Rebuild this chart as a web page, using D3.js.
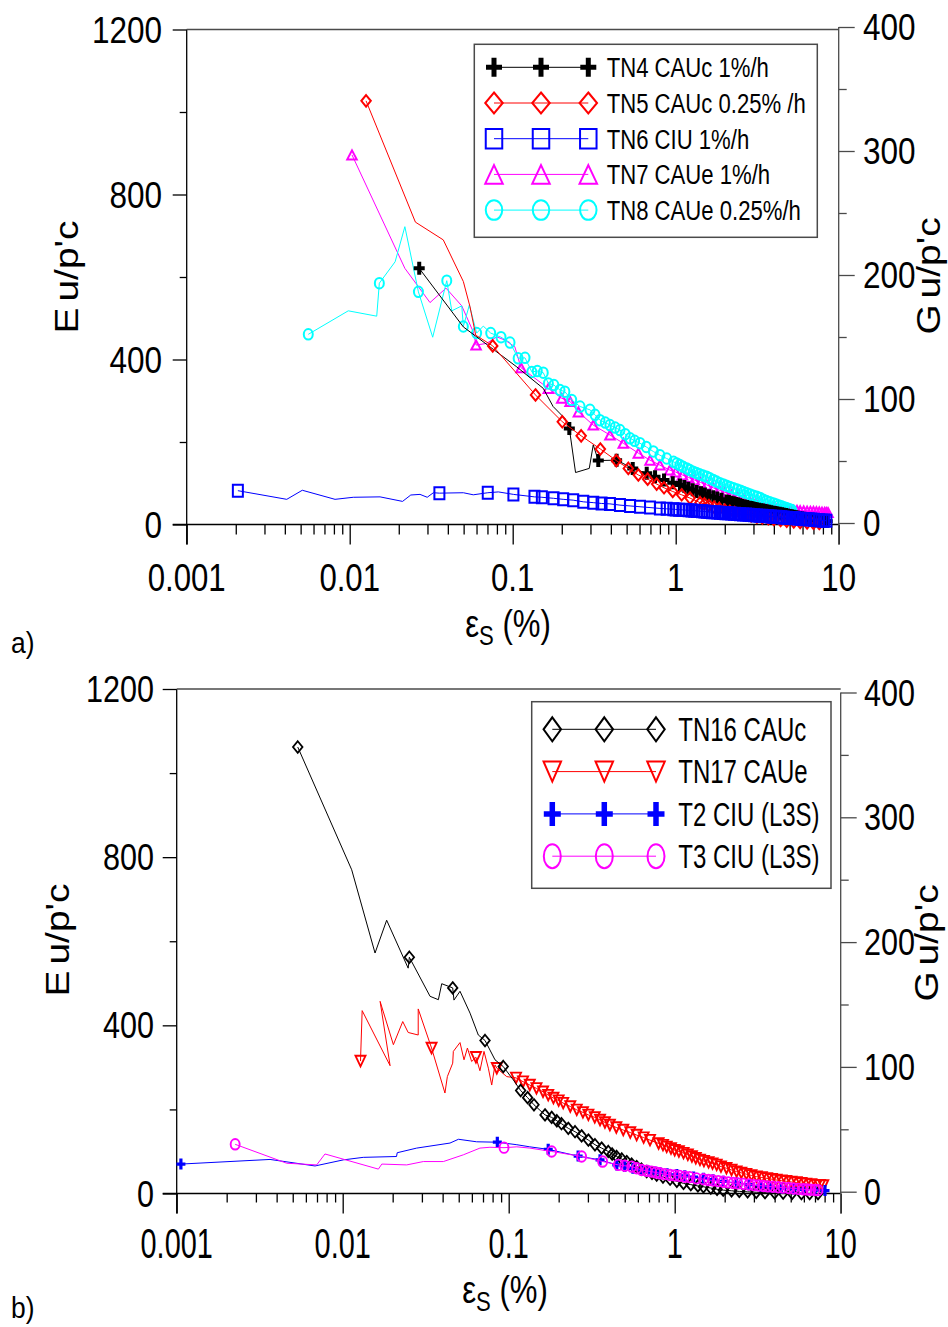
<!DOCTYPE html>
<html><head><meta charset="utf-8">
<script src="https://cdn.jsdelivr.net/npm/d3@7"></script>
<style>
body{margin:0;background:#fff}
svg{display:block}
text{font-family:"Liberation Sans",Arial,Helvetica,sans-serif;fill:#000}
</style>
</head><body>
<svg id="c" width="948" height="1327"></svg>
<script>
// ---------------- DATA ----------------
// Panel a
const tn4X = [0.0267,0.0498,0.106,0.154,0.177,0.209,0.2225,0.243,0.295,0.312,0.335,0.434,0.545,0.664,0.747,0.848,0.959,1.062,1.13,1.195,1.27,1.345,1.43,1.51,1.6,1.70,1.8,1.91,2.05,2.12,2.2,2.27,2.35,2.41,2.48,2.56,2.65,2.75,2.85,2.92,3.0,3.07,3.14,3.25,3.35,3.45,3.55,3.65,3.75,3.86,3.98,4.1,4.2,4.35,4.5,4.62,4.75,4.87,5.0,5.15,5.3,5.45,5.6,5.78,5.95,6.1,6.3,6.5,6.7,6.9,7.1,7.3,7.5,7.75,8.0,8.25,8.5];
const tn4Y = [621,479,382,330,286,257,233,126,136,193,155,156,136,124,116,108,101,96,92,88,84,80,77,74,70,67,64,61,57,55.5,54,52.5,51,49.5,48,46.5,45,43.5,42,41,40,39,38,37,36,35,34,33,32,31,30,29,28,27,26,25,24,23,22,21,20,19,18,17,16,15,14,13,12.5,11.7,11,10.5,10,9.5,9,8.5,8];
const tn4Bare = [1,2,3,4,5,7,8,9];

const tn5X = [0.0126,0.0253,0.0375,0.0498,0.0547,0.0593,0.0754,0.138,0.2015,0.263,0.345,0.432,0.512,0.590,0.673,0.764,0.848,0.959,1.088,1.224,1.41,1.5,1.6,1.72,1.85,2.0,2.15,2.3,2.5,2.7,2.9,3.15,3.4,3.7,4.0,4.4,4.8,5.3,5.8,6.4,7.0,7.6];
const tn5Y = [1027,733,690,589,528,459,433,314,249,215,183,155,136,120,110,98,89,80,72,64,53,50,46,42,39,35,32,29,26,23,21,18,16,14,12,10,8,6.5,5,4,3,2.5];
const tn5Bare = [1,2,3,4,5];

const tn6X = [0.00206,0.00411,0.00512,0.00813,0.01052,0.01535,0.0211,0.0237,0.0270,0.0299,0.0326,0.0355,0.0498,0.0573,0.0703,0.0817,0.101,0.136,0.151,0.178,0.204,0.235,0.271,0.312,0.351,0.395,0.455,0.525,0.604,0.696,0.80,0.88,0.967,1.0,1.05,1.1,1.15,1.2,1.25,1.3,1.35,1.4,1.45,1.5,1.55,1.61,1.67,1.73,1.8,1.87,1.95,2.02,2.1,2.19,2.28,2.38,2.48,2.59,2.7,2.8,2.9,3.02,3.15,3.27,3.4,3.55,3.7,3.84,3.98,4.14,4.3,4.45,4.6,4.8,5.0,5.2,5.4,5.62,5.85,6.07,6.3,6.55,6.8,7.05,7.3,7.57,7.85,8.12,8.4];
const tn6Y = [82,61,83,61,66,67,56,71.5,73,66,77,76,77,72,77,79,73,67,66,63.5,61,59,55,53,51,50,47,45,43,41,39,38,37,36.5,36,35.5,35,34.5,34,33.5,33,32.5,32,31.5,31,30.5,30,29.5,29,28.5,28,27.5,27,26.5,26,25.5,25,24.5,24,23.5,23,22.5,22,21.5,21,20.5,20,19.5,19,18.5,18,17.5,17,16.5,16,15.5,15,14.5,14,13.5,13,12.5,12,11.5,11,10.5,10,9.5,9];
const tn6Bare = [1,2,3,4,5,6,7,8,9,10,12,13,15];

const tn7X = [0.01033,0.0218,0.0311,0.039,0.0487,0.0573,0.0596,0.0692,0.0798,0.0897,0.103,0.1125,0.1655,0.2,0.225,0.253,0.312,0.395,0.477,0.59,0.696,0.80,0.92,1.0,1.1,1.2,1.3,1.42,1.55,1.7,1.85,2.0,2.2,2.4,2.6,2.85,3.1,3.4,3.7,4.0,4.2,4.4,4.6,4.8,5.05,5.3,5.55,5.8,6.1,6.4,6.7,7.0,7.3,7.6,7.9,8.2,8.4,8.6];
const tn7Y = [896,621,538,573,530,467,435,439,455,447,431,380,330,306,298,273,241,217,197,173,156,144,132,127,120,114,108,102,96,89,83,78,72,66,61,56,52,48,44,41,39.5,38,37,36,35,34.5,34,33.5,33,32.5,32,31.5,31,30.5,30,29.5,29,29];
const tn7Bare = [1,2,3,4,5,7,8,9,10];

const tn8X = [0.00557,0.0098,0.01465,0.0152,0.019,0.0218,0.0264,0.0323,0.0394,0.0423,0.0487,0.0498,0.0542,0.0601,0.066,0.0733,0.0848,0.0963,0.108,0.119,0.131,0.1415,0.154,0.1655,0.179,0.195,0.209,0.23,0.259,0.298,0.32,0.343,0.37,0.395,0.425,0.455,0.49,0.525,0.56,0.604,0.66,0.729,0.8,0.881,0.97,1.015,1.06,1.11,1.17,1.22,1.28,1.34,1.4,1.47,1.55,1.62,1.7,1.78,1.87,1.96,2.05,2.15,2.26,2.38,2.5,2.61,2.73,2.86,3.0,3.15,3.3,3.45,3.6,3.78,3.98,4.14,4.3,4.45,4.6,4.75,4.9,5.02,5.15];
const tn8Y = [461,518,505,585,637,722,564,454,591,518,530,480,532,464,481,464,454,441,403,404,370,372,368,342,338,326,322,302,286,278,266,253,247,241,235,229,219,209,203,197,188,177,168,160,152,148,144,140,136,132,128,125,122,119,116,112,108,104,100,97,94,91,88,85,82,79,76,73,70,67,64,60,57,54,51,48.5,46,44,42,40,38,36.5,35];
const tn8Bare = [1,2,4,5,7,9,10,12,14];

// Panel b
const tn16X = [0.00536,0.01133,0.01566,0.0184,0.0248,0.0252,0.0336,0.0377,0.0395,0.046,0.0468,0.0509,0.0585,0.0656,0.072,0.0827,0.0927,0.1067,0.118,0.13,0.142,0.1655,0.1815,0.195,0.208,0.2286,0.251,0.275,0.302,0.331,0.363,0.398,0.42,0.447,0.48,0.514,0.55,0.59,0.63,0.678,0.73,0.779,0.85,0.938,1.03,1.13,1.25,1.38,1.49,1.65,1.8,1.96,2.2,2.45,2.75,3.1,3.5,4.0,4.5,5.1,5.8,6.5,7.3];
const tn16Y = [1062,770,572,650,536,562,469,461,499,489,460,481,429,377,364,318,302,270,245,228,211,187,181,173,166,155,147,137,127,116,108,100,94,88,82,76,70,64,58,52,48,44,39,34,29,24,21,18,16,13,10,8,6.5,5,4,3,2,1.5,1,0.5,0,0,0];
const tn16Bare = [1,2,3,4,6,7,8,10,11,12,13,15,17];

const tn17X = [0.0128,0.0131,0.0193,0.0168,0.0202,0.023,0.0248,0.0285,0.0285,0.0343,0.0413,0.0427,0.046,0.0464,0.0509,0.0538,0.0564,0.0598,0.0635,0.0671,0.071,0.0754,0.079,0.0827,0.0848,0.0973,0.1107,0.122,0.134,0.147,0.161,0.173,0.186,0.2,0.213,0.235,0.257,0.28,0.302,0.33,0.355,0.38,0.407,0.445,0.49,0.54,0.59,0.65,0.71,0.8,0.85,0.895,0.95,1.0,1.06,1.13,1.2,1.27,1.34,1.42,1.5,1.6,1.69,1.79,1.9,2.05,2.2,2.36,2.52,2.7,2.9,3.12,3.35,3.6,3.85,4.11,4.4,4.7,5.05,5.43,5.8,6.2,6.65,7.16,7.5,7.85];
const tn17Y = [315,435,304,457,354,409,383,377,439,346,239,278,310,338,359,318,346,314,324,292,338,298,258,306,298,278,275,266,258,250,242,234,227,221,215,207,199,193,187,181,175,169,163,157,151,145,139,133,127,119,115,111,107,103,100,96,92,88,84,80,77,74,71,68,64,60,56,52,49,46,43,40,38,36,34,32,30.5,29,27.5,26,24.5,23,21.5,20,19.5,19];
const tn17Bare = [1,2,3,4,5,6,7,8,10,11,12,13,14,15,16,17,19,20,21,22,23,25];

const t2X = [0.00106,0.00365,0.00681,0.0101,0.0133,0.0211,0.0213,0.0279,0.0443,0.0498,0.0641,0.0854,0.112,0.134,0.173,0.262,0.355,0.448,0.5,0.56,0.633,0.7,0.76,0.815,0.9,1.03,1.15,1.3,1.49,1.7,1.96,2.36,2.8,3.3,3.75,4.4,5.2,5.96,7.0,8.04];
const t2Y = [70,81,65.5,80,86,88,97,108,120,129,123,122,116,111,105,89,80,68,64,60,56,53,51,49.5,47,45,42,39,36,33,29,25,21,18,16,13,11,10,8,7];
const t2Bare = [1,2,3,4,5,6,7,8,9,10,12,13];

const t3X = [0.00225,0.0046,0.00697,0.00782,0.0164,0.0172,0.0243,0.0306,0.0404,0.0533,0.0671,0.0771,0.0937,0.112,0.134,0.1815,0.275,0.368,0.458,0.5,0.551,0.59,0.633,0.68,0.726,0.77,0.815,0.87,0.938,1.0,1.07,1.15,1.23,1.35,1.49,1.6,1.7,1.83,1.96,2.1,2.25,2.4,2.59,2.8,3.0,3.2,3.42,3.65,3.9,4.2,4.5,4.85,5.2,5.55,5.96,6.3,6.6,7.0,7.3];
const t3Y = [117,72,68,94,58,70,68,76,76,92,108,110,109,111,108,100,88,76,68,66,64,60,56,54,52,50,48,46,44,43,42,40,39,36,34,32,31,29.5,28,26.5,25,24,23,21.5,20,19,18,17,16,15,14,13,12,11,10,9.5,9,8.5,8];
const t3Bare = [1,2,3,4,5,6,7,8,9,10,11,13,14];

// ticks & labels
const xMajor = [0.001,0.01,0.1,1,10];
const xLabels = ["0.001","0.01","0.1","1","10"];
const yMajor = [0,400,800,1200];
const yMinor = [200,600,1000];
const y2Major = [0,100,200,300,400];
const y2Minor = [50,150,250,350];

const legendA = ["TN4 CAUc 1%/h","TN5 CAUc 0.25% /h","TN6 CIU 1%/h","TN7 CAUe 1%/h","TN8 CAUe 0.25%/h"];
const legendB = ["TN16 CAUc","TN17 CAUe","T2 CIU (L3S)","T3 CIU (L3S)"];

// ---------------- HELPERS ----------------
const svg = d3.select("#c");
const xMinor = [];
[0.001,0.01,0.1,1].forEach(d => { for (let k = 2; k <= 9; k++) xMinor.push(+(d*k).toPrecision(3)); });

function txt(g, str, x, y, fs, sx, anchor) {
  return g.append("text").attr("transform", `translate(${x},${y}) scale(${sx},1)`)
    .attr("font-size", fs).attr("text-anchor", anchor || "start").text(str);
}
function markerPath(type, w, h) {
  const a = w/2, b = h/2;
  switch (type) {
    case "plus": return `M${-a},0H${a}M0,${-b}V${b}`;
    case "diamond": return `M0,${-b}L${a},0L0,${b}L${-a},0Z`;
    case "square": return `M${-a},${-b}H${a}V${b}H${-a}Z`;
    case "tri": return `M0,${-b}L${a},${b}L${-a},${b}Z`;
    case "triDown": return `M${-a},${-b}L${a},${-b}L0,${b}Z`;
    case "circle": return `M${-a},0A${a},${b} 0 1,0 ${a},0A${a},${b} 0 1,0 ${-a},0Z`;
  }
}
function drawMarker(g, type, cx, cy, w, h, color, sw) {
  g.append("path").attr("d", markerPath(type, w, h))
    .attr("transform", `translate(${cx},${cy})`)
    .attr("fill", "none")
    .attr("stroke", color).attr("stroke-width", sw);
}
function drawSeries(g, xs, ys, bare, x, y, s) {
  const pts = xs.map((v, i) => [v, ys[i]]);
  g.append("path").datum(pts).attr("fill", "none").attr("stroke", s.color)
    .attr("stroke-width", s.lw || 1)
    .attr("d", d3.line().x(d => x(d[0])).y(d => y(d[1])));
  const bs = new Set(bare);
  pts.forEach((p, i) => { if (!bs.has(i)) drawMarker(g, s.type, x(p[0]), y(p[1]), s.w, s.h, s.color, s.sw); });
}
function drawAxes(g, x, y, y2, o) {
  const grey = "#4a4a4a";
  const [x0, x1] = x.range(), [yb, yt] = y.range();
  g.append("g").attr("transform", `translate(${x0},0)`)
    .call(d3.axisLeft(y).tickValues(yMajor).tickSize(14).tickFormat(""))
    .call(a => a.select(".domain").remove());
  g.append("g").attr("transform", `translate(${x0},0)`)
    .call(d3.axisLeft(y).tickValues(yMinor).tickSize(7).tickFormat(""))
    .call(a => a.select(".domain").remove());
  g.append("g").attr("transform", `translate(0,${yb})`)
    .call(d3.axisBottom(x).tickValues(xMajor).tickSize(20).tickFormat(""))
    .call(a => a.select(".domain").remove());
  g.append("g").attr("transform", `translate(0,${yb})`)
    .call(d3.axisBottom(x).tickValues(xMinor).tickSize(o.minorX).tickFormat(""))
    .call(a => a.select(".domain").remove());
  g.append("g").attr("transform", `translate(${x1},0)`)
    .call(d3.axisRight(y2).tickValues(y2Major).tickSize(16).tickFormat(""))
    .call(a => { a.select(".domain").remove(); a.selectAll("line").attr("stroke", grey); });
  g.append("g").attr("transform", `translate(${x1},0)`)
    .call(d3.axisRight(y2).tickValues(y2Minor).tickSize(8).tickFormat(""))
    .call(a => { a.select(".domain").remove(); a.selectAll("line").attr("stroke", grey); });
  g.selectAll(".tick line").attr("stroke-width", 1.3);
  g.append("line").attr("x1", x0).attr("x2", x0).attr("y1", yt).attr("y2", yb + 20).attr("stroke", "#000").attr("stroke-width", 1.3);
  g.append("line").attr("x1", x0 - 14).attr("x2", x1).attr("y1", yb).attr("y2", yb).attr("stroke", "#000").attr("stroke-width", 1.3);
  g.append("line").attr("x1", x0).attr("x2", x1).attr("y1", yt).attr("y2", yt).attr("stroke", grey).attr("stroke-width", 1.3);
  g.append("line").attr("x1", x1).attr("x2", x1).attr("y1", y2.range()[1]).attr("y2", yb + 20).attr("stroke", grey).attr("stroke-width", 1.3);
  yMajor.forEach(v => txt(g, String(v), o.yLabX, y(v) + o.yLabDy, o.yFs, o.ySx, "end"));
  y2Major.forEach(v => txt(g, String(v), o.y2LabX, y2(v) + o.yLabDy, o.yFs, o.ySx, "start"));
  xMajor.forEach((v, i) => txt(g, xLabels[i], x(v), o.xLabBase, o.xFs, o.xSx, "middle"));
}
function rotTitle(g, main, rest, x, y) {
  const t = g.append("text").attr("transform", `translate(${x},${y}) rotate(-90) scale(1.18,1)`)
    .attr("font-size", 33).attr("text-anchor", "middle");
  t.append("tspan").text(main);
  t.append("tspan").attr("dx", 5).text(rest);
}
function xTitle(g, x, y) {
  const t = g.append("text").attr("transform", `translate(${x},${y}) scale(0.82,1)`)
    .attr("font-size", 38).attr("text-anchor", "middle");
  t.append("tspan").text("\u03B5");
  t.append("tspan").attr("font-size", 27).attr("dy", 8).text("S");
  t.append("tspan").attr("dy", -8).text(" (%)");
}

// ---------------- PANEL A ----------------
const gA = svg.append("g");
const xA = d3.scaleLog().domain([0.001, 10]).range([186.7, 838.7]);
const yA = d3.scaleLinear().domain([0, 1200]).range([524.5, 29.5]);
const yA2 = d3.scaleLinear().domain([0, 400]).range([523, 27]);

const seriesA = [
  {xs: tn7X, ys: tn7Y, bare: tn7Bare, color: "#ff00ff", type: "tri", w: 9.5, h: 9, sw: 2},
  {xs: tn8X, ys: tn8Y, bare: tn8Bare, color: "#00ffff", type: "circle", w: 9, h: 10.5, sw: 2},
  {xs: tn4X, ys: tn4Y, bare: tn4Bare, color: "#000000", type: "plus", w: 11, h: 13, sw: 4},
  {xs: tn5X, ys: tn5Y, bare: tn5Bare, color: "#ff0000", type: "diamond", w: 9.5, h: 11.5, sw: 2},
  {xs: tn6X, ys: tn6Y, bare: tn6Bare, color: "#0000ff", type: "square", w: 10, h: 12, sw: 2}
];
const legA = [seriesA[2], seriesA[3], seriesA[4], seriesA[0], seriesA[1]];

drawAxes(gA, xA, yA, yA2, {minorX: 10, yLabX: 162, y2LabX: 863, yLabDy: 13.3, yFs: 37.3, ySx: 0.845, xLabBase: 590.7, xFs: 38.1, xSx: 0.818});
seriesA.forEach(s => drawSeries(gA, s.xs, s.ys, s.bare, xA, yA, s));

gA.append("rect").attr("x", 474.3).attr("y", 44.3).attr("width", 343).attr("height", 193)
  .attr("fill", "#fff").attr("stroke", "#4a4a4a").attr("stroke-width", 1.5);
const legAW = {plus: [16, 19, 5], diamond: [17.5, 21, 2], square: [16.5, 19.5, 2], tri: [17.5, 18.5, 2], circle: [16.5, 19.5, 2]};
legA.forEach((s, i) => {
  const cy = 67.3 + i * 35.7;
  gA.append("line").attr("x1", 494).attr("x2", 588.3).attr("y1", cy).attr("y2", cy).attr("stroke", s.color).attr("stroke-width", 1);
  const m = legAW[s.type];
  [494, 541, 588.3].forEach(cx => drawMarker(gA, s.type, cx, cy, m[0], m[1], s.color, m[2]));
  txt(gA, legendA[i], 606.7, cy + 10, 28, 0.79, "start");
});

rotTitle(gA, "E", "u/p'c", 78, 277);
rotTitle(gA, "G", "u/p'c", 940, 276);
xTitle(gA, 508, 637);
txt(gA, "a)", 11, 653, 30, 0.88, "start");

// ---------------- PANEL B ----------------
const gB = svg.append("g");
const xB = d3.scaleLog().domain([0.001, 10]).range([176.7, 840.7]);
const yB = d3.scaleLinear().domain([0, 1200]).range([1193.5, 689]);
const yB2 = d3.scaleLinear().domain([0, 400]).range([1191.7, 692.5]);

const seriesB = [
  {xs: tn17X, ys: tn17Y, bare: tn17Bare, color: "#ff0000", type: "triDown", w: 10, h: 10.5, sw: 1.9},
  {xs: tn16X, ys: tn16Y, bare: tn16Bare, color: "#000000", type: "diamond", w: 9.5, h: 11.5, sw: 1.8},
  {xs: t2X, ys: t2Y, bare: t2Bare, color: "#0000ff", type: "plus", w: 9, h: 11, sw: 3.2},
  {xs: t3X, ys: t3Y, bare: t3Bare, color: "#ff00ff", type: "circle", w: 9, h: 10.5, sw: 1.9}
];
const legB = [seriesB[1], seriesB[0], seriesB[2], seriesB[3]];

drawAxes(gB, xB, yB, yB2, {minorX: 9, yLabX: 154, y2LabX: 864, yLabDy: 13, yFs: 36.3, ySx: 0.842, xLabBase: 1258, xFs: 41.9, xSx: 0.69});
seriesB.forEach(s => drawSeries(gB, s.xs, s.ys, s.bare, xB, yB, s));

gB.append("rect").attr("x", 531.7).attr("y", 701.7).attr("width", 299.3).attr("height", 186.6)
  .attr("fill", "#fff").attr("stroke", "#4a4a4a").attr("stroke-width", 1.5);
const legBW = {diamond: [17.5, 24, 2], triDown: [17.5, 20, 2], plus: [17, 24, 5.5], circle: [17, 24, 2]};
legB.forEach((s, i) => {
  const cy = 729.3 + i * 42.3;
  gB.append("line").attr("x1", 552.3).attr("x2", 656).attr("y1", cy).attr("y2", cy).attr("stroke", s.color).attr("stroke-width", 1);
  const m = legBW[s.type];
  [552.3, 604.3, 656].forEach(cx => drawMarker(gB, s.type, cx, cy, m[0], m[1], s.color, m[2]));
  txt(gB, legendB[i], 678.3, cy + 11.7, 32.6, 0.736, "start");
});

rotTitle(gB, "E", "u/p'c", 69, 940);
rotTitle(gB, "G", "u/p'c", 938, 943);
xTitle(gB, 505, 1303);
txt(gB, "b)", 11, 1318, 30, 0.88, "start");
</script>
</body></html>
